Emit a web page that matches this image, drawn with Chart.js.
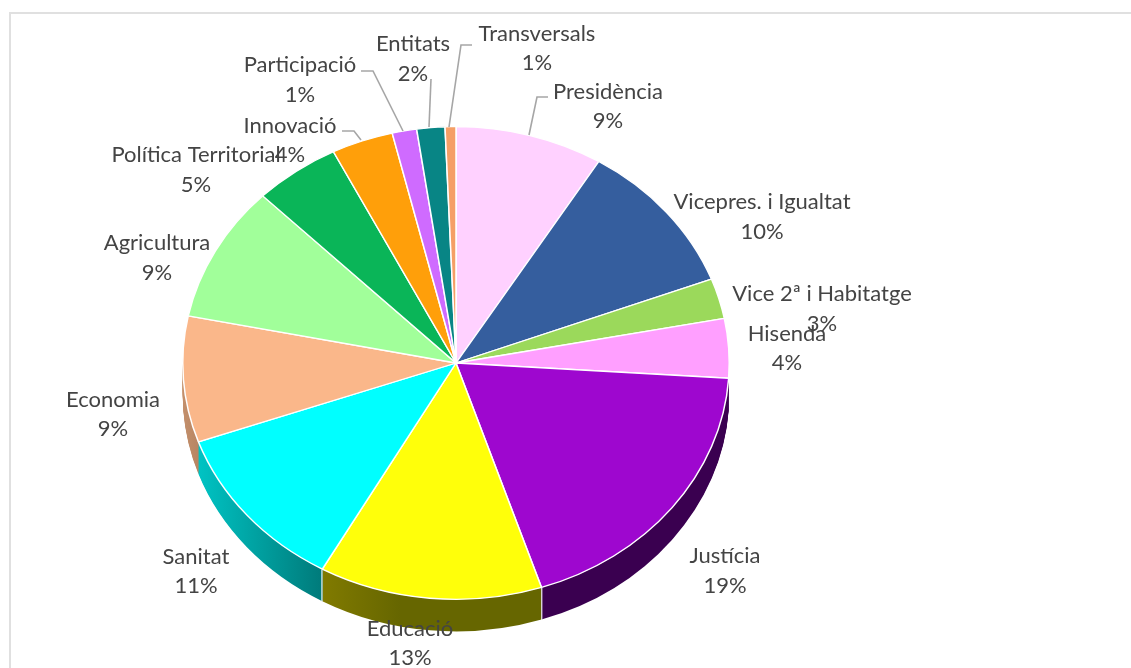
<!DOCTYPE html>
<html>
<head>
<meta charset="utf-8">
<style>
html, body { margin: 0; padding: 0; background: #fff; overflow: hidden; }
canvas { display: block; }
</style>
</head>
<body>
<canvas id="chart" width="1131" height="668"></canvas>
<script src="https://cdn.jsdelivr.net/npm/chart.js@4"></script>
<script>
const labels = ['Presidència', 'Vicepres. i Igualtat', 'Vice 2ª i Habitatge', 'Hisenda', 'Justícia', 'Educació', 'Sanitat', 'Economia', 'Agricultura', 'Política Territorial', 'Innovació', 'Participació', 'Entitats', 'Transversals'];
const values = [8.75, 10.47, 2.75, 4.05, 18.9, 13.2, 11.45, 8.6, 9.3, 5.1, 3.65, 1.45, 1.66, 0.64];
const colors = ['#ffd1ff', '#355e9e', '#9bd95b', '#ff9fff', '#9e07cf', '#ffff0a', '#00ffff', '#fab78a', '#a1ff9a', '#0ab558', '#ff9f0a', '#cf6bff', '#088585', '#f59f66'];

// label centres, same order as labels: [x, y of name, y of percent]
const labelPos = [[608, 92, 121], [762, 202, 232], [822, 294, 324], [787, 334, 363], [725, 556, 586], [410, 629, 658], [196, 557, 586], [113, 400, 429], [157, 243, 273], [196, 155, 185], [290, 126, 155], [300, 65, 95], [413, 44, 74], [537, 34, 63]];
const leaders = [
    [[548, 97], [537, 97], [529, 135]],
    [[342, 131], [354, 131], [361, 140]],
    [[361, 71], [373, 71], [403, 131]],
    [[431, 79], [429, 127]],
    [[472, 45], [461, 45], [449, 127]]
];

const radius = 274;
const squash = 237 / 274;
const centerShift = 29;
const depth = 32;

// side walls of the tilted pie, only the slices that face the viewer
const sides = [
    { index: 7, from: '#c4906c', to: '#b98663', x0: 182, x1: 197 },
    { index: 6, from: '#00c4c4', to: '#007a7a', x0: 197, x1: 323 },
    { index: 4, from: '#3a0050', to: '#3a0050', x0: 542, x1: 730 },
    { index: 5, from: '#807a00', to: '#666600', x0: 323, x1: 400 }
];

function tilt(ctx, arc, dy) {
    ctx.translate(arc.x, arc.y + centerShift + dy);
    ctx.scale(1, squash);
    ctx.translate(-arc.x, -arc.y);
}

function rimPoint(arc, angle) {
    return [arc.x + radius * Math.cos(angle), arc.y + centerShift + radius * squash * Math.sin(angle)];
}

const tiltedPie = {
    id: 'tiltedPie',
    beforeDraw(chart) {
        const ctx = chart.ctx;
        ctx.save();
        ctx.fillStyle = '#fff';
        ctx.fillRect(0, 0, chart.width, chart.height);
        ctx.strokeStyle = '#e0e0e0';
        ctx.lineWidth = 2;
        ctx.strokeRect(10, 13, chart.width + 20, chart.height + 20);
        ctx.restore();
    },
    beforeDatasetsDraw(chart) {
        const ctx = chart.ctx;
        const arcs = chart.getDatasetMeta(0).data;
        sides.forEach(side => {
            const arc = arcs[side.index];
            const fill = ctx.createLinearGradient(side.x0, 0, side.x1, 0);
            fill.addColorStop(0, side.from);
            fill.addColorStop(1, side.to);
            const wall = Object.create(arc);
            wall.options = Object.assign({}, arc.options, { backgroundColor: fill, borderWidth: 0 });
            for (let dy = depth; dy > 0; dy--) {
                ctx.save();
                tilt(ctx, arc, dy);
                arc.draw.call(wall, ctx);
                ctx.restore();
            }
        });
        // white seams between the walls
        ctx.save();
        ctx.strokeStyle = '#f2f2f2';
        ctx.lineWidth = 1.2;
        [4, 5].forEach(i => {
            const p = rimPoint(arcs[i], arcs[i].endAngle);
            ctx.beginPath();
            ctx.moveTo(p[0], p[1]);
            ctx.lineTo(p[0], p[1] + depth);
            ctx.stroke();
        });
        ctx.restore();
        ctx.save();
        tilt(ctx, arcs[0], 0);
    },
    afterDatasetsDraw(chart) {
        const ctx = chart.ctx;
        ctx.restore();
        ctx.save();
        ctx.strokeStyle = '#a6a6a6';
        ctx.lineWidth = 1.6;
        leaders.forEach(line => {
            ctx.beginPath();
            line.forEach((p, i) => i ? ctx.lineTo(p[0], p[1]) : ctx.moveTo(p[0], p[1]));
            ctx.stroke();
        });
        ctx.fillStyle = '#444444';
        ctx.font = '22px Lato';
        ctx.textAlign = 'center';
        ctx.textBaseline = 'middle';
        labels.forEach((name, i) => {
            ctx.fillText(name, labelPos[i][0], labelPos[i][1]);
            ctx.fillText(Math.round(values[i]) + '%', labelPos[i][0], labelPos[i][2]);
        });
        ctx.restore();
    }
};

new Chart(document.getElementById('chart'), {
    type: 'pie',
    data: {
        labels: labels,
        datasets: [{
            data: values,
            backgroundColor: colors,
            borderColor: '#ffffff',
            borderWidth: 1.5,
            clip: false
        }]
    },
    options: {
        responsive: false,
        animation: false,
        layout: { padding: { left: 182, right: 401, top: 60, bottom: 60 } },
        plugins: { legend: { display: false }, tooltip: { enabled: false } }
    },
    plugins: [tiltedPie]
});
</script>
</body>
</html>
